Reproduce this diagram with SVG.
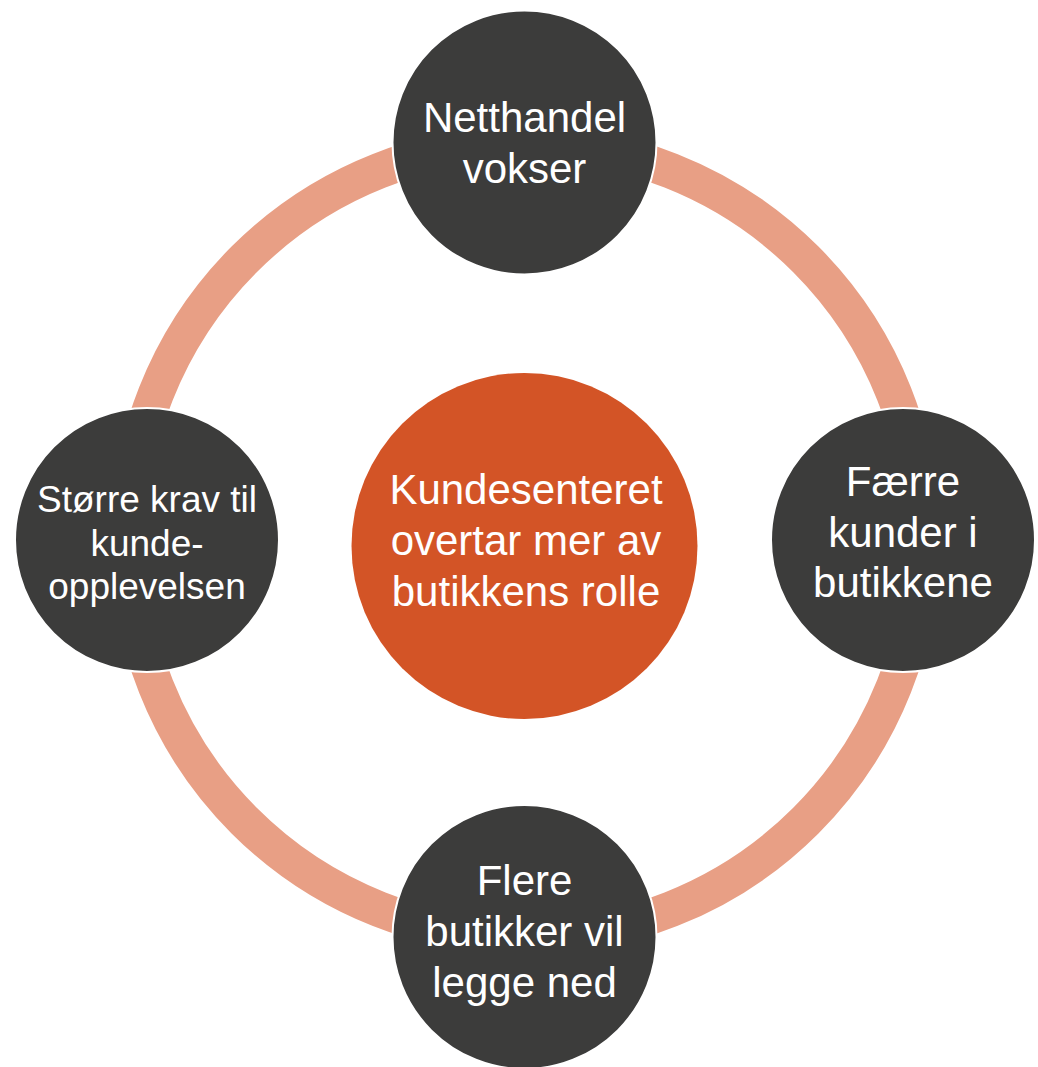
<svg xmlns="http://www.w3.org/2000/svg" width="1038" height="1067" viewBox="0 0 1038 1067">
<style>
.node{fill:#3c3c3b;stroke:#ffffff;stroke-width:2}
.lbl{font-family:"Liberation Sans",Arial,sans-serif;fill:#ffffff;text-anchor:middle;font-size:42px}
.small{font-size:37px}
.ring{fill:none;stroke:#e89f85;stroke-width:36}
</style>
<rect width="1038" height="1067" fill="#ffffff"/>
<g id="connectors">
<circle class="ring" cx="525" cy="540" r="397"/>
</g>
<g id="center">
<circle cx="524.5" cy="546" r="173" fill="#d35426"/>
<text class="lbl"><tspan x="526" y="504">Kundesenteret</tspan><tspan x="526" y="555">overtar mer av</tspan><tspan x="526" y="606">butikkens rolle</tspan></text>
</g>
<g id="node-top">
<circle class="node" cx="524.5" cy="142.5" r="132"/>
<text class="lbl"><tspan x="524.5" y="132">Netthandel</tspan><tspan x="524.5" y="183">vokser</tspan></text>
</g>
<g id="node-right">
<circle class="node" cx="903" cy="540" r="132"/>
<text class="lbl"><tspan x="903" y="496">Færre</tspan><tspan x="903" y="547">kunder i</tspan><tspan x="903" y="597">butikkene</tspan></text>
</g>
<g id="node-bottom">
<circle class="node" cx="524.5" cy="937" r="132"/>
<text class="lbl"><tspan x="524.5" y="895">Flere</tspan><tspan x="524.5" y="946">butikker vil</tspan><tspan x="524.5" y="997">legge ned</tspan></text>
</g>
<g id="node-left">
<circle class="node" cx="147" cy="540" r="132"/>
<text class="lbl small"><tspan x="147" y="512">Større krav til</tspan><tspan x="147" y="556">kunde-</tspan><tspan x="147" y="599">opplevelsen</tspan></text>
</g>
</svg>
